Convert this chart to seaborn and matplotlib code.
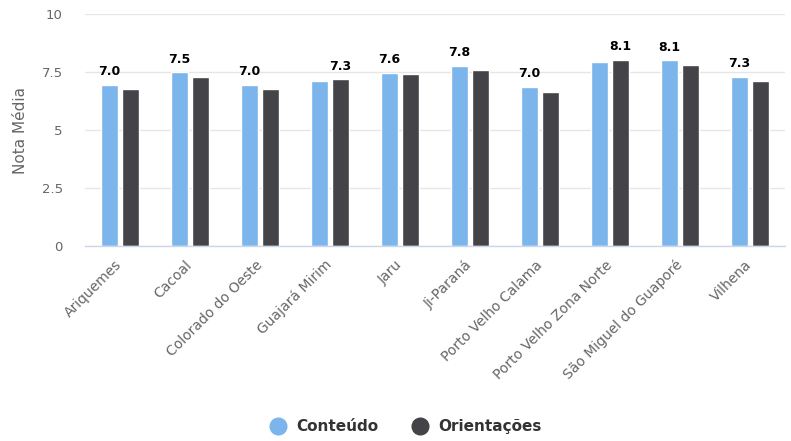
import matplotlib
matplotlib.use("Agg")
import matplotlib.pyplot as plt
import seaborn as sns
import pandas as pd
from matplotlib.lines import Line2D

escolas = ["Ariquemes", "Cacoal", "Colorado do Oeste", "Guajará Mirim", "Jaru",
           "Ji-Paraná", "Porto Velho Calama", "Porto Velho Zona Norte",
           "São Miguel do Guaporé", "Vilhena"]
conteudo = [6.95, 7.48, 6.95, 7.13, 7.47, 7.77, 6.87, 7.94, 8.0, 7.29]
orientacoes = [6.77, 7.3, 6.77, 7.18, 7.42, 7.58, 6.64, 8.01, 7.82, 7.13]
rotulos = [7.0, 7.5, 7.0, 7.3, 7.6, 7.8, 7.0, 8.1, 8.1, 7.3]
series = ["Conteúdo", "Orientações"]
cores = ["#7cb5ec", "#434348"]
yticks = [0, 2.5, 5, 7.5, 10]
ytick_labels = ["0", "2.5", "5", "7.5", "10"]

df = pd.DataFrame({
    "escola": escolas * 2,
    "nota": conteudo + orientacoes,
    "serie": [series[0]] * len(escolas) + [series[1]] * len(escolas),
})

sns.set_theme(style="white")
plt.rcParams["font.family"] = ["DejaVu Sans"]

fig = plt.figure(figsize=(7.91, 4.41), dpi=100)
ax = fig.add_axes([85 / 791, 1 - 246 / 441, 700 / 791, 232 / 441])

sns.barplot(data=df, x="escola", y="nota", hue="serie", palette=cores,
            width=0.6, gap=0.15, edgecolor="white", linewidth=1,
            saturation=1, ax=ax, legend=False)

# rotulo sobre a barra mais alta de cada grupo
blue, dark = ax.containers[0], ax.containers[1]
for i, val in enumerate(rotulos):
    p = blue[i] if blue[i].get_height() >= dark[i].get_height() else dark[i]
    ax.annotate(f"{val:.1f}", (p.get_x() + p.get_width() / 2, p.get_height()),
                xytext=(0, 7), textcoords="offset points", ha="center",
                va="baseline", fontsize=9, fontweight="bold", color="#000000")

ax.set_ylim(0, 10)
ax.set_xlim(-0.5, len(escolas) - 0.5)
ax.set_yticks(yticks)
ax.set_yticklabels(ytick_labels)
ax.grid(axis="y", color="#e6e6e6", linewidth=1)
ax.set_axisbelow(True)
for s in ["top", "right", "left"]:
    ax.spines[s].set_visible(False)
ax.spines["bottom"].set_color("#ccd6eb")
ax.spines["bottom"].set_linewidth(1)

ax.tick_params(axis="y", length=0, pad=16, labelsize=9.5, labelcolor="#666666")
ax.tick_params(axis="x", length=0, pad=12, labelsize=10, labelcolor="#666666")
plt.setp(ax.get_xticklabels(), rotation=45, ha="right", va="center",
         rotation_mode="anchor")

ax.set_xlabel("")
ax.set_ylabel("Nota Média", fontsize=11, color="#666666", labelpad=10)

handles = [Line2D([], [], marker="o", linestyle="", markersize=12,
                  markerfacecolor=c, markeredgecolor=c) for c in cores]
leg = fig.legend(handles, series, loc="center", bbox_to_anchor=(0.513, 0.032),
                 ncol=2, frameon=False, handlelength=1, handletextpad=0.7,
                 columnspacing=2.2, prop={"size": 11, "weight": "bold"})
for t in leg.get_texts():
    t.set_color("#333333")

fig.savefig("out.png", dpi=100)
